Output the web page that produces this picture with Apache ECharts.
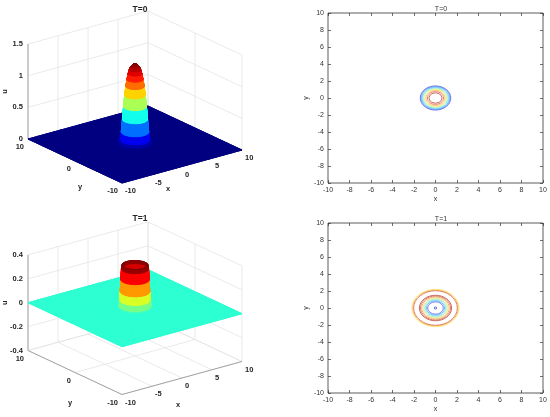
<!DOCTYPE html>
<html>
<head>
<meta charset="utf-8">
<script src="https://cdn.jsdelivr.net/npm/echarts@6/dist/echarts.min.js"></script>
<style>
html, body { margin: 0; padding: 0; background: #fff; }
#main { width: 550px; height: 417px; }
</style>
</head>
<body>
<div id="main"></div>
<script>
// radial profiles u(r)
var radius0 = [0, 0.15, 0.3, 0.45, 0.6, 0.75, 0.9, 1.05, 1.2, 1.35, 1.5, 1.65, 1.8, 1.95, 2.1, 2.25];
var height0 = [1.27, 1.268, 1.26, 1.245, 1.22, 1.18, 1.12, 1.03, 0.92, 0.78, 0.6, 0.4, 0.2, 0.08, 0.02, 0];
var radius1 = [0, 0.25, 0.5, 0.75, 0.9, 1.05, 1.2, 1.35, 1.5, 1.6, 1.7, 1.78, 1.86, 1.94, 2.02, 2.1, 2.2];
var height1 = [-0.26, -0.23, -0.15, -0.04, 0.04, 0.12, 0.2, 0.28, 0.34, 0.36, 0.36, 0.33, 0.24, 0.14, 0.07, 0.02, 0];

// 3D axis ticks
var xTicks3d = [-10, -5, 0, 5, 10];
var yTicks3d = [-10, 0, 10];
var zTicks0 = [0, 0.5, 1, 1.5];
var zTicks1 = [-0.4, -0.2, 0, 0.2, 0.4];

// contour rings, outer to inner
var ringR0 = [1.42, 1.34, 1.26, 1.18, 1.09, 1.0, 0.88, 0.75, 0.6];
var ringC0 = ['#5050d8', '#5088ff', '#58bcff', '#70e8ee', '#b4f2a4', '#f2ec6c', '#f7b45a', '#e66a52', '#b8423a'];
var ringR1 = [2.2, 2.12, 2.03, 1.5, 1.4, 1.28, 1.17, 1.06, 0.95, 0.84, 0.72, 0.12];
var ringC1 = ['#f5ec60', '#f7b85a', '#d9624a', '#b8463e', '#d9604a', '#f39e5a', '#f2e26c', '#aef0a2', '#6ce4ee', '#58acff', '#5460e6', '#3c3cc0'];

// flat floor around the bump, meshed in rings so it sorts with the surface
var floorRings = [2.6, 3.2, 4, 5, 6.5, 8.5, 11, 14.3];

var FONT = 'Liberation Sans, Arial, sans-serif';

function clamp(v) { return Math.max(0, Math.min(1, v)); }
function jet(t) {
  t = clamp(t);
  var r = clamp(1.5 - Math.abs(4 * t - 3));
  var g = clamp(1.5 - Math.abs(4 * t - 2));
  var b = clamp(1.5 - Math.abs(4 * t - 1));
  return 'rgb(' + Math.round(r * 255) + ',' + Math.round(g * 255) + ',' + Math.round(b * 255) + ')';
}

var panels = [
  { r: radius0, u: height0, zTicks: zTicks0, zMin: 0, zMax: 1.5, kz: 63.3,
    yName: [5, 26], xName: [-14, 22] },
  { r: radius1, u: height1, zTicks: zTicks1, zMin: -0.4, zMax: 0.4, kz: 119.5,
    yName: [-5, 30], xName: [-4, 27] }
];

function proj(p, x, y, z) {
  return [6 * x - 4.7 * y, 1.65 * x + 2.2 * y + p.kz * z];
}

// keep the part of a polygon inside |x|,|y| <= 10
function clipSquare(pts) {
  [[0, 1], [0, -1], [1, 1], [1, -1]].forEach(function (e) {
    var a = e[0], s = e[1], b = 10 * s, out = [];
    for (var i = 0; i < pts.length; i++) {
      var p1 = pts[i], p2 = pts[(i + 1) % pts.length];
      var in1 = s * p1[a] <= 10, in2 = s * p2[a] <= 10;
      if (in1) out.push(p1);
      if (in1 !== in2) {
        var t = (b - p1[a]) / (p2[a] - p1[a]);
        out.push([p1[0] + t * (p2[0] - p1[0]), p1[1] + t * (p2[1] - p1[1]), p1[2] + t * (p2[2] - p1[2])]);
      }
    }
    pts = out;
  });
  return pts;
}

function buildFaces(p) {
  var faces = [];
  var N = 72;
  var rr = p.r.concat(floorRings);
  var uu = p.u.concat(floorRings.map(function () { return 0; }));
  for (var i = 0; i < rr.length - 1; i++) {
    for (var j = 0; j < N; j++) {
      var a0 = 2 * Math.PI * j / N, a1 = 2 * Math.PI * (j + 1) / N;
      var r0 = rr[i], r1 = rr[i + 1], u0 = uu[i], u1 = uu[i + 1];
      var pts = [
        [r0 * Math.cos(a0), r0 * Math.sin(a0), u0],
        [r1 * Math.cos(a0), r1 * Math.sin(a0), u1],
        [r1 * Math.cos(a1), r1 * Math.sin(a1), u1],
        [r0 * Math.cos(a1), r0 * Math.sin(a1), u0]
      ];
      if (r1 > 10) pts = clipSquare(pts);
      if (pts.length < 3) continue;
      var cx = 0, cy = 0, cz = 0;
      pts.forEach(function (q) { cx += q[0]; cy += q[1]; cz += q[2]; });
      cx /= pts.length; cy /= pts.length; cz /= pts.length;
      var hp = 1.65 * cx + 2.2 * cy;
      faces.push({ pts: pts, u: (u0 + u1) / 2, d: 2.59 * hp - 0.386 * p.kz * cz, c: [cx, cy, cz] });
    }
  }
  faces.sort(function (a, b) { return b.d - a.d; });
  // whole floor underneath everything, fills hairline seams
  faces.unshift({ pts: [[-10, -10, 0], [10, -10, 0], [10, 10, 0], [-10, 10, 0]], u: 0, c: [0, 0, 0] });
  return faces;
}

function buildBox(p) {
  var s = [];
  xTicks3d.forEach(function (t) {
    s.push([t, -10, p.zMin, t, 10, p.zMin, 0]);
    s.push([t, 10, p.zMin, t, 10, p.zMax, 0]);
  });
  yTicks3d.forEach(function (t) {
    s.push([-10, t, p.zMin, 10, t, p.zMin, 0]);
    s.push([10, t, p.zMin, 10, t, p.zMax, 0]);
  });
  p.zTicks.forEach(function (t) {
    s.push([-10, 10, t, 10, 10, t, 0]);
    s.push([10, -10, t, 10, 10, t, 0]);
  });
  s.push([-10, 10, p.zMin, -10, 10, p.zMax, 1]);
  s.push([-10, -10, p.zMin, 10, -10, p.zMin, 1]);
  s.push([-10, -10, p.zMin, -10, 10, p.zMin, 1]);
  return s;
}

function buildLabels(p) {
  var l = [];
  p.zTicks.forEach(function (t) {
    l.push({ at: [-10, 10, t], off: [-5, 0], text: String(t), align: 'right' });
  });
  yTicks3d.forEach(function (t) {
    l.push({ at: [-10, t, p.zMin], off: [-4, 8], text: String(t), align: 'right' });
  });
  xTicks3d.forEach(function (t) {
    l.push({ at: [t, -10, p.zMin], off: [3, 8], text: String(t), align: 'left' });
  });
  l.push({ at: [-10, 10, (p.zMin + p.zMax) / 2], off: [-23, 0], text: 'u', align: 'center', rot: Math.PI / 2 });
  l.push({ at: [-10, 0, p.zMin], off: p.yName, text: 'y', align: 'center' });
  l.push({ at: [0, -10, p.zMin], off: p.xName, text: 'x', align: 'center' });
  return l;
}

var series = [];
panels.forEach(function (p, k) {
  var cmin = Math.min.apply(null, p.u), cmax = Math.max.apply(null, p.u);
  var box = buildBox(p);
  var labels = buildLabels(p);
  var faces = buildFaces(p);
  series.push({
    type: 'custom', xAxisIndex: k, yAxisIndex: k, clip: false, silent: true, z: 1,
    data: box,
    renderItem: function (params, api) {
      var a = api.coord(proj(p, api.value(0), api.value(1), api.value(2)));
      var b = api.coord(proj(p, api.value(3), api.value(4), api.value(5)));
      var axis = api.value(6) === 1;
      return { type: 'line', shape: { x1: a[0], y1: a[1], x2: b[0], y2: b[1] },
        style: { stroke: axis ? '#9a9a9a' : '#e4e4e4', lineWidth: axis ? 0.9 : 0.8 } };
    }
  });
  series.push({
    type: 'custom', xAxisIndex: k, yAxisIndex: k, clip: false, silent: true, z: 2,
    data: faces.map(function (f) { return [f.c[0], f.c[1], f.c[2], f.u]; }),
    renderItem: function (params, api) {
      var f = faces[params.dataIndex];
      var pts = f.pts.map(function (q) { return api.coord(proj(p, q[0], q[1], q[2])); });
      var c = jet((api.value(3) - cmin) / (cmax - cmin));
      return { type: 'polygon', shape: { points: pts }, style: { fill: c, stroke: c, lineWidth: 0.9 } };
    }
  });
  series.push({
    type: 'custom', xAxisIndex: k, yAxisIndex: k, clip: false, silent: true, z: 3,
    data: labels.map(function (l) { return [l.at[0], l.at[1], l.at[2]]; }),
    renderItem: function (params, api) {
      var l = labels[params.dataIndex];
      var c = api.coord(proj(p, api.value(0), api.value(1), api.value(2)));
      return { type: 'text', x: c[0] + l.off[0], y: c[1] + l.off[1], rotation: l.rot || 0,
        style: { text: l.text, fill: '#262626', fontSize: 7.5, fontWeight: 'bold', fontFamily: FONT,
          align: l.align, verticalAlign: 'middle' } };
    }
  });
});

[[ringR0, ringC0], [ringR1, ringC1]].forEach(function (rc, k) {
  series.push({
    type: 'custom', xAxisIndex: 2 + k, yAxisIndex: 2 + k, silent: true,
    data: rc[0].map(function (r) { return [0, 0, r]; }),
    renderItem: function (params, api) {
      var c = api.coord([api.value(0), api.value(1)]);
      var s = api.size([api.value(2), api.value(2)]);
      return { type: 'ellipse', shape: { cx: c[0], cy: c[1], rx: s[0], ry: s[1] },
        style: { fill: 'none', stroke: rc[1][params.dataIndex], lineWidth: 0.8 } };
    }
  });
});

function hiddenAxis(i, min, max) {
  return { gridIndex: i, type: 'value', min: min, max: max, show: false };
}
function contourX(i, top) {
  return { gridIndex: i, type: 'value', min: -10, max: 10, interval: 2, position: top ? 'top' : 'bottom',
    axisLine: { show: false, onZero: false },
    axisTick: { inside: true, length: 3, lineStyle: { color: '#333', width: 0.7 } },
    axisLabel: { show: !top, fontSize: 7, color: '#333', margin: 4, fontFamily: FONT },
    splitLine: { show: false },
    name: top ? '' : 'x', nameLocation: 'middle', nameGap: 13,
    nameTextStyle: { fontSize: 7, color: '#333', fontFamily: FONT } };
}
function contourY(i, right) {
  return { gridIndex: i, type: 'value', min: -10, max: 10, interval: 2, position: right ? 'right' : 'left',
    axisLine: { show: false, onZero: false },
    axisTick: { inside: true, length: 3, lineStyle: { color: '#333', width: 0.7 } },
    axisLabel: { show: !right, fontSize: 7, color: '#333', margin: 4, fontFamily: FONT },
    splitLine: { show: false },
    name: right ? '' : 'y', nameLocation: 'middle', nameGap: 15,
    nameTextStyle: { fontSize: 7, color: '#333', fontFamily: FONT } };
}

var gridBox = { show: true, borderColor: '#333', borderWidth: 0.8, backgroundColor: 'transparent' };

var option = {
  animation: false,
  title: [
    { text: 'T=0', left: 135, top: 0, textAlign: 'center', textStyle: { fontSize: 8.5, fontWeight: 'bold', color: '#262626', fontFamily: FONT } },
    { text: 'T=1', left: 135, top: 209, textAlign: 'center', textStyle: { fontSize: 8.5, fontWeight: 'bold', color: '#262626', fontFamily: FONT } },
    { text: 'T=0', left: 436, top: 1, textAlign: 'center', textStyle: { fontSize: 7, fontWeight: 'normal', color: '#333', fontFamily: FONT } },
    { text: 'T=1', left: 436, top: 211, textAlign: 'center', textStyle: { fontSize: 7, fontWeight: 'normal', color: '#333', fontFamily: FONT } }
  ],
  grid: [
    { left: 0, top: 0, width: 275, height: 207 },
    { left: 0, top: 207, width: 275, height: 210 },
    Object.assign({ left: 328, top: 13, width: 215, height: 170 }, gridBox),
    Object.assign({ left: 328, top: 223, width: 215, height: 170 }, gridBox)
  ],
  xAxis: [
    hiddenAxis(0, -135, 140), hiddenAxis(1, -135, 140),
    contourX(2, false), contourX(3, false), contourX(2, true), contourX(3, true)
  ],
  yAxis: [
    hiddenAxis(0, -62.5, 144.5), hiddenAxis(1, -108.8, 101.2),
    contourY(2, false), contourY(3, false), contourY(2, true), contourY(3, true)
  ],
  series: series
};

var chart = echarts.init(document.getElementById('main'));
chart.setOption(option);
</script>
</body>
</html>
